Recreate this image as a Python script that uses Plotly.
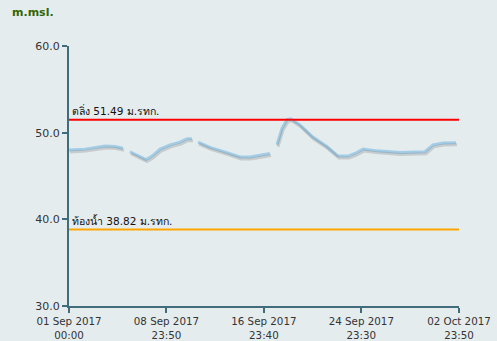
import plotly.graph_objects as go
import datetime as _dt

# ---- data ----
times = [
    "2017-09-01 00:00", "2017-09-02 07:30", "2017-09-03 23:00", "2017-09-04 18:30", "2017-09-05 10:20",
    None,
    "2017-09-06 00:00", "2017-09-06 16:00", "2017-09-07 07:40", "2017-09-07 19:30", "2017-09-08 11:20",
    "2017-09-09 07:00", "2017-09-10 02:30", "2017-09-10 16:20", "2017-09-11 02:10",
    None,
    "2017-09-11 14:00", "2017-09-12 13:40", "2017-09-13 23:00", "2017-09-15 00:40", "2017-09-15 20:20",
    "2017-09-16 16:00", "2017-09-17 11:40",
    None,
    "2017-09-18 01:30", "2017-09-18 11:20", "2017-09-18 21:10", "2017-09-19 04:50", "2017-09-19 22:30",
    "2017-09-21 00:00", "2017-09-22 03:40", "2017-09-23 01:40", "2017-09-23 21:20", "2017-09-24 11:00",
    "2017-09-25 02:50", "2017-09-26 06:30", "2017-09-28 03:40", "2017-09-30 04:50", "2017-09-30 20:40",
    "2017-10-01 16:20", "2017-10-02 18:00",
]
levels = [
    48.0, 48.1, 48.45, 48.4, 48.2,
    None,
    47.8, 47.3, 46.9, 47.3, 48.1,
    48.6, 48.9, 49.3, 49.3,
    None,
    48.9, 48.3, 47.7, 47.2, 47.2,
    47.4, 47.6,
    None,
    48.6, 50.5, 51.5, 51.6, 50.9,
    49.5, 48.4, 47.3, 47.3, 47.6,
    48.1, 47.9, 47.7, 47.8, 48.6,
    48.8, 48.85,
]
bank_level = 51.49
bed_level = 38.82
bank_label = "ตลิ่ง 51.49 ม.รทก."
bed_label = "ท้องน้ำ 38.82 ม.รทก."
tick_vals = ["2017-09-01 00:00", "2017-09-08 23:50", "2017-09-16 23:40",
             "2017-09-24 23:30", "2017-10-02 23:50"]
tick_text = ["01 Sep 2017<br>00:00", "08 Sep 2017<br>23:50", "16 Sep 2017<br>23:40",
             "24 Sep 2017<br>23:30", "02 Oct 2017<br>23:50"]
y_ticks = [30, 40, 50, 60]
y_tick_text = ["30.0", "40.0", "50.0", "60.0"]
x_range = ["2017-09-01 00:00", "2017-10-02 23:50"]
y_range = [30, 60]

AXIS = "#3f6d7c"
BG = "#e5ecee"
FONT = "DejaVu Sans, Noto Sans, sans-serif"

fig = go.Figure()

# shadow (same data on slightly shifted overlay axes)
fig.add_trace(go.Scatter(
    x=times, y=levels, mode="lines", xaxis="x2", yaxis="y2",
    line=dict(color="rgba(110,110,110,0.25)", width=3),
    connectgaps=False, hoverinfo="skip", showlegend=False))

fig.add_trace(go.Scatter(
    x=times, y=levels, mode="lines",
    line=dict(color="#a3cde6", width=3),
    connectgaps=False, showlegend=False))

# reference lines
fig.add_trace(go.Scatter(x=x_range, y=[bank_level, bank_level], mode="lines",
                         line=dict(color="#ff0000", width=2), showlegend=False, hoverinfo="skip"))
fig.add_trace(go.Scatter(x=x_range, y=[bed_level, bed_level], mode="lines",
                         line=dict(color="#ffa500", width=2), showlegend=False, hoverinfo="skip"))

fig.add_annotation(x=0.003, xref="paper", y=bank_level, yref="y", text=bank_label,
                   showarrow=False, xanchor="left", yanchor="bottom", yshift=1,
                   font=dict(size=10.5, color="#111", family=FONT))
fig.add_annotation(x=0.003, xref="paper", y=bed_level, yref="y", text=bed_label,
                   showarrow=False, xanchor="left", yanchor="bottom", yshift=1,
                   font=dict(size=10.5, color="#111", family=FONT))
fig.add_annotation(x=-0.151, xref="paper", y=1.13, yref="paper", text="<b>m.msl.</b>",
                   showarrow=False, xanchor="left", yanchor="middle",
                   font=dict(size=11, color="#336600", family=FONT))

# offsets for shadow: ~1 px right, ~2 px down
px_per_day = 390 / 31.993
shift_min = 1.0 / px_per_day * 24 * 60
def _shift(s, minutes):
    d = _dt.datetime.strptime(s, "%Y-%m-%d %H:%M") - _dt.timedelta(minutes=minutes)
    return d.strftime("%Y-%m-%d %H:%M:%S")
y_shift = 2.0 * (y_range[1] - y_range[0]) / 260

fig.update_layout(
    width=497, height=341,
    margin=dict(l=69, r=38, t=46, b=35),
    paper_bgcolor=BG, plot_bgcolor=BG,
    font=dict(family=FONT, size=11, color="#333"),
    xaxis=dict(range=x_range, tickvals=tick_vals, ticktext=tick_text, automargin=False,
               showgrid=False, zeroline=False, showline=True, linecolor=AXIS, linewidth=2,
               ticks="outside", ticklen=5, tickwidth=2, tickcolor=AXIS,
               tickfont=dict(size=10.3, color="#333")),
    yaxis=dict(range=y_range, tickvals=y_ticks, ticktext=y_tick_text, automargin=False,
               showgrid=False, zeroline=False, showline=True, linecolor=AXIS, linewidth=2,
               ticks="outside", ticklen=5, tickwidth=2, tickcolor=AXIS,
               tickfont=dict(size=11, color="#333")),
    xaxis2=dict(range=[_shift(x_range[0], shift_min), _shift(x_range[1], shift_min)],
                overlaying="x", visible=False),
    yaxis2=dict(range=[y_range[0] + y_shift, y_range[1] + y_shift],
                overlaying="y", visible=False),
)

fig.write_html("out.html")
